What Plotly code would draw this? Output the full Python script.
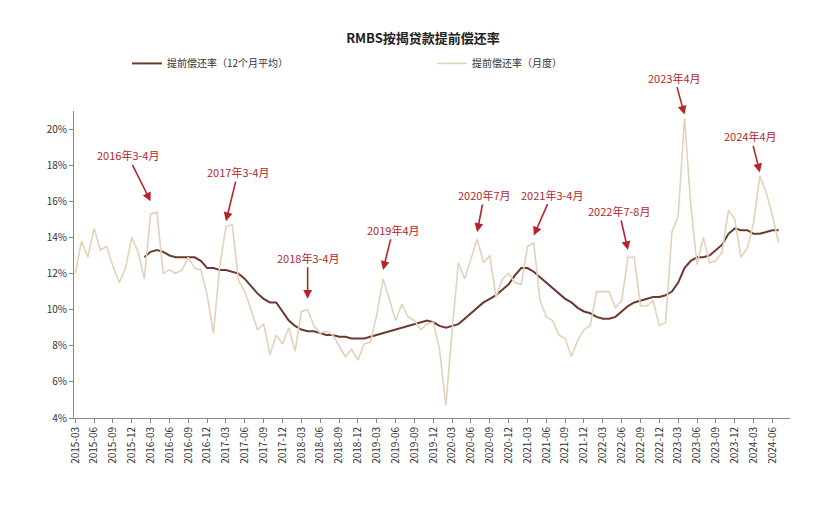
import plotly.graph_objects as go
import pandas as pd

months = pd.date_range("2015-03-01", periods=113, freq="MS").strftime("%Y-%m").tolist()

monthly = [12.0, 13.8, 12.9, 14.5, 13.3, 13.5, 12.4, 11.5, 12.3, 14.0,
           13.2, 11.7, 15.3, 15.4, 12.0, 12.2, 12.0, 12.2, 12.9, 12.3, 12.2, 10.8,
           8.7, 12.4, 14.6, 14.7, 11.6, 11.0, 10.0, 8.9, 9.2, 7.5, 8.6, 8.1,
           9.0, 7.7, 9.9, 10.0, 9.1, 8.7, 8.8, 8.6, 8.0, 7.4, 7.8, 7.2,
           8.1, 8.2, 9.7, 11.7, 10.6, 9.4, 10.3, 9.6, 9.4, 8.9, 9.2, 9.3,
           7.8, 4.7, 8.8, 12.6, 11.7, 12.8, 13.9, 12.6, 13.0, 10.7, 11.7, 12.0,
           11.5, 11.4, 13.5, 13.7, 10.5, 9.6, 9.4, 8.6, 8.4, 7.4, 8.3, 8.9,
           9.1, 11.0, 11.0, 11.0, 10.1, 10.5, 12.9, 12.9, 10.2, 10.2, 10.5, 9.1,
           9.3, 14.3, 15.2, 20.6, 15.8, 12.5, 14.0, 12.6, 12.7, 13.2, 15.5, 15.0,
           12.9, 13.4, 14.8, 17.4, 16.5, 15.2, 13.7]

avg12 = [12.9, 13.2, 13.3, 13.2, 13.0, 12.9, 12.9, 12.9, 12.9, 12.7, 12.3,
         12.3, 12.2, 12.2, 12.1, 12.0, 11.7, 11.3, 10.9, 10.6, 10.4, 10.4, 9.9,
         9.4, 9.1, 8.9, 8.8, 8.8, 8.7, 8.6, 8.6, 8.5, 8.5, 8.4, 8.4,
         8.4, 8.5, 8.6, 8.7, 8.8, 8.9, 9.0, 9.1, 9.2, 9.3, 9.4, 9.3,
         9.1, 9.0, 9.1, 9.2, 9.5, 9.8, 10.1, 10.4, 10.6, 10.8, 11.1, 11.4,
         11.9, 12.3, 12.3, 12.1, 11.8, 11.5, 11.2, 10.9, 10.6, 10.4, 10.1, 9.9,
         9.8, 9.6, 9.5, 9.5, 9.6, 9.9, 10.2, 10.4, 10.5, 10.6, 10.7, 10.7,
         10.8, 11.0, 11.5, 12.3, 12.7, 12.9, 12.9, 13.0, 13.3, 13.6, 14.2, 14.5,
         14.4, 14.4, 14.2, 14.2, 14.3, 14.4, 14.4]
avg_months = months[len(months) - len(avg12):]

notes = ["2016年3-4月", "2017年3-4月", "2018年3-4月", "2019年4月", "2020年7月",
         "2021年3-4月", "2022年7-8月", "2023年4月", "2024年4月"]
note_month = ["2016-03", "2017-03", "2018-04", "2019-04", "2020-07",
              "2021-04", "2022-07", "2023-04", "2024-04"]
note_y = [16.0, 14.9, 10.6, 12.2, 14.3, 14.1, 13.3, 20.8, 17.6]
note_ax = [-23, 12, 0, 10, 7, 18, -9, -10, -9]
note_ay = [-46, -49, -41, -40, -37, -41, -39, -37, -36]

fig = go.Figure()
fig.add_trace(go.Scatter(x=avg_months, y=avg12, mode="lines", name="提前偿还率（12个月平均）",
                         line=dict(color="#6b3a2e", width=2)))
fig.add_trace(go.Scatter(x=months, y=monthly, mode="lines", name="提前偿还率（月度）",
                         line=dict(color="#e2d2b8", width=1.6)))

for t, m, y, ax, ay in zip(notes, note_month, note_y, note_ax, note_ay):
    fig.add_annotation(x=months.index(m), y=y, xref="x", yref="y", text=t, showarrow=True,
                       ax=ax, ay=ay, arrowhead=2, arrowsize=1.1, arrowwidth=1.6,
                       arrowcolor="#b5262a", font=dict(color="#b5262a", size=11))

fig.update_layout(
    width=830, height=528,
    margin=dict(l=66, r=48, t=103, b=118),
    paper_bgcolor="white", plot_bgcolor="white",
    font=dict(family="Noto Sans CJK SC, sans-serif", size=11, color="#333"),
    title=dict(text="<b>RMBS按揭贷款提前偿还率</b>", x=0.5, y=0.943, xanchor="center",
               yanchor="middle", font=dict(size=13, color="#222")),
    legend=dict(orientation="h", x=0.5, xanchor="center", y=1.155, yanchor="middle",
                font=dict(size=10), entrywidth=260),
    showlegend=True,
)
fig.update_xaxes(type="category", categoryorder="array", categoryarray=months,
                 range=[-0.2, 113.8], tickmode="array",
                 tickvals=months[::3], ticktext=months[::3], tickangle=-90,
                 showline=True, linecolor="#888", ticks="outside", ticklen=4,
                 tickcolor="#888", showgrid=False, tickfont=dict(size=10))
fig.update_yaxes(range=[4, 21], tickvals=list(range(4, 21, 2)),
                 ticktext=[f"{v}%" for v in range(4, 21, 2)],
                 showline=True, linecolor="#888", ticks="outside", ticklen=4,
                 tickcolor="#888", showgrid=False, zeroline=False, tickfont=dict(size=10))

fig.write_html("out.html")
